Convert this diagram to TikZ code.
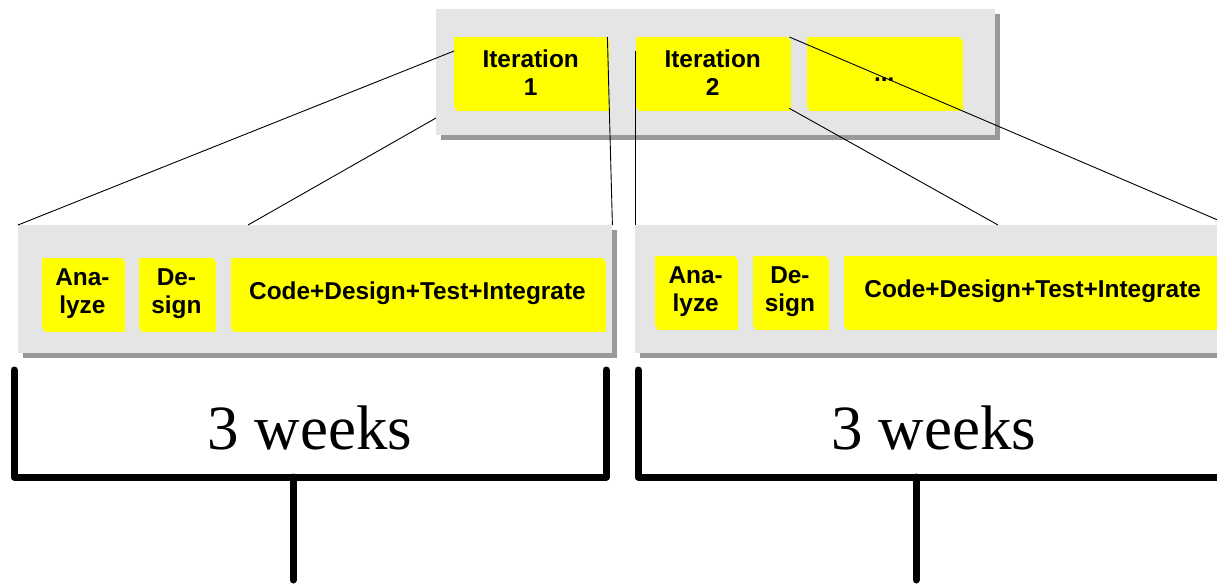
\documentclass[tikz,border=0pt]{standalone}
\usepackage{fontspec}
\setmainfont{Liberation Serif}
\setsansfont{Liberation Sans}
\usetikzlibrary{calc,shadows}
\definecolor{panelgrey}{HTML}{E5E5E5}
\definecolor{shadegrey}{HTML}{999999}
\definecolor{phaseyellow}{HTML}{FFFF00}

\begin{document}
\begin{tikzpicture}[x=1pt,y=-1pt,
  panel/.style={rectangle, anchor=north west, fill=panelgrey, draw=none, inner sep=0pt,
    drop shadow={shadow xshift=5pt, shadow yshift=-5pt, fill=shadegrey, opacity=1}},
  phase/.style={rectangle, anchor=north west, fill=phaseyellow, draw=none, inner sep=0pt,
    align=center, minimum height=71pt,
    font=\sffamily\bfseries\fontsize{24.4}{28}\selectfont,
    drop shadow={shadow xshift=2pt, shadow yshift=-3pt, fill=phaseyellow, opacity=1}},
  link/.style={draw=black, line width=0.9pt},
  bracket/.style={line width=7pt, line cap=round, line join=round},
  span/.style={anchor=base, inner sep=0pt, font=\fontsize{63}{70}\selectfont}]

\useasboundingbox (0,0) rectangle (1217,586);

% grey panels: the release plan and the two iterations
\node[panel, minimum width=559pt, minimum height=126pt] (top) at (436,9) {};
\node[panel, minimum width=594pt, minimum height=128pt] (lp) at (18,225) {};
\node[panel, minimum width=594pt, minimum height=128pt] (rp) at (635,225) {};

% iterations
\node[phase, minimum width=153pt] (it1) at (454,37) {Iteration\\1};
\node[phase, minimum width=153pt] (it2) at (636,37) {Iteration\\2};
\node[phase, minimum width=154pt] (it3) at (807,37) {\vphantom{I}...};

% phases of the first iteration
\node[phase, minimum width=81.5pt] (la) at (41.5,258) {Ana-\\lyze};
\node[phase, minimum width=74.5pt] (ld) at (139,258) {De-\\sign};
\node[phase, minimum width=373.5pt] (lc) at (230.5,258) {Code+Design+Test+Integrate};

% phases of the second iteration
\node[phase, minimum width=81pt] (ra) at (655,256) {Ana-\\lyze};
\node[phase, minimum width=74.5pt] (rd) at (752.5,256) {De-\\sign};
\node[phase, minimum width=377pt] (rc) at (844,256) {Code+Design+Test+Integrate};

% zoom lines from the iterations to their detail panels
\draw[link] (lp.north west) -- ($(it1.north west)+(0,14)$);
\draw[link] ($(lp.north west)+(230,0)$) -- ($(top.north west)+(0,109)$);
\draw[link] (it1.north east) -- (lp.north east);
\draw[link] ($(it2.north west)+(-1,14)$) -- (rp.north west);
\draw[link] (it2.south east) -- ($(rp.north west)+(363,0)$);
\draw[link] (it2.north east) -- (rp.north east);

% duration brackets
\coordinate (b1a) at (14,370);
\coordinate (b1b) at (606,370);
\coordinate (b1m) at (293,477);
\coordinate (b1s) at (293,580);
\draw[bracket] (b1a) |- (b1m) -| (b1b);
\draw[bracket] (b1m) -- (b1s);

\coordinate (b2a) at (638,370);
\coordinate (b2b) at (1230,370);
\coordinate (b2m) at (916,477);
\coordinate (b2s) at (916,580);
\draw[bracket] (b2a) |- (b2m) -| (b2b);
\draw[bracket] (b2m) -- (b2s);

\node[span] (w1) at (310,449) {3 weeks};
\node[span] (w2) at (934,449) {3 weeks};
\end{tikzpicture}
\end{document}
